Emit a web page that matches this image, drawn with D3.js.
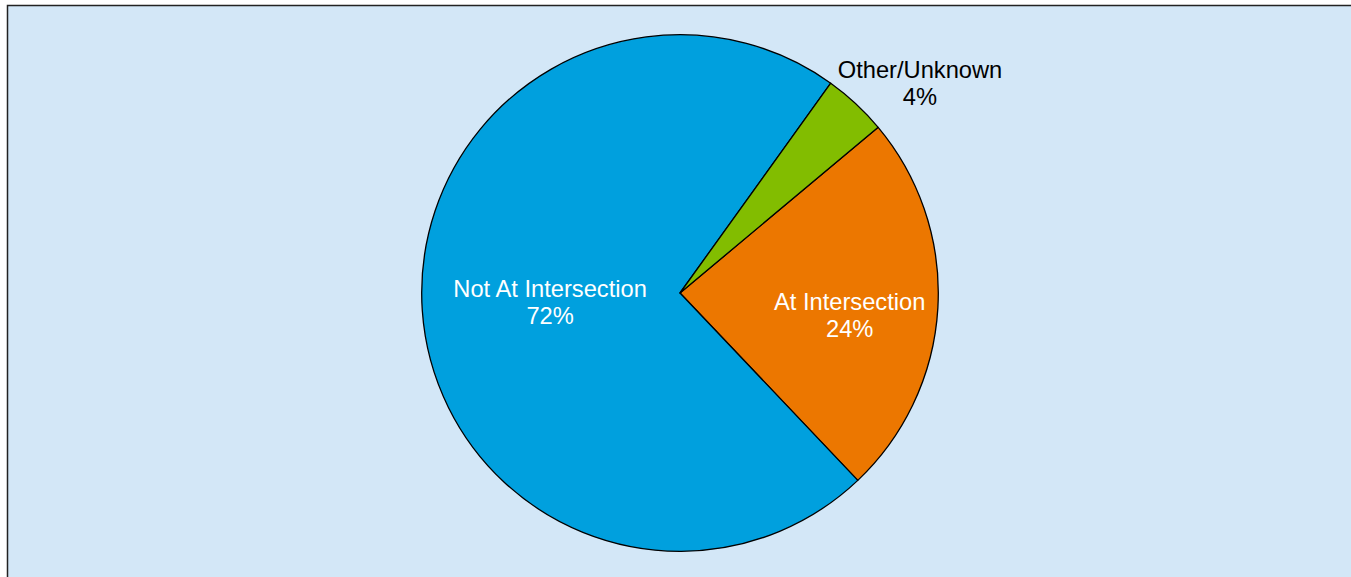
<!DOCTYPE html>
<html>
<head>
<meta charset="utf-8">
<script src="https://cdn.jsdelivr.net/npm/d3@7"></script>
<style>
  html, body { margin: 0; padding: 0; background: #ffffff; overflow: hidden; }
  svg { display: block; }
</style>
</head>
<body>
<script>
// ---- Data ----
const categories = ["At Intersection", "Not At Intersection", "Other/Unknown"];
const values = [24, 72, 4];
const percentLabels = ["24%", "72%", "4%"];
const colors = ["#EC7700", "#00A0DE", "#82BD00"];

// ---- Layout / style ----
const W = 1351, H = 577;
const cx = 680, cy = 293, R = 258.3;
const startDeg = 50.1;
const fontSize = 23.7;
const lineGap = 27.5;
// label placement: radius fraction along slice mid-angle, plus nudges
const labelPlacement = [
  { r: 0.658, dx: 0, dy: 12, color: "#ffffff" },
  { r: 0.504, dx: 0, dy: 0, color: "#ffffff" },
  { r: 1.2, dx: 29, dy: 17, color: "#000000" }
];

const svg = d3.select("body").append("svg")
  .attr("width", W).attr("height", H);

// chart area background with border
svg.append("rect")
  .attr("x", 7.5).attr("y", 5.5)
  .attr("width", W + 20).attr("height", H + 20)
  .attr("fill", "#D3E7F7")
  .attr("stroke", "#222")
  .attr("stroke-width", 1.5);

const data = categories.map((c, i) => ({ name: c, value: values[i], pct: percentLabels[i], color: colors[i], idx: i }));

const start = startDeg * Math.PI / 180;
const pie = d3.pie().sort(null).value(d => d.value)
  .startAngle(start).endAngle(start + 2 * Math.PI);
const arcs = pie(data);

const arc = d3.arc().innerRadius(0).outerRadius(R);

const g = svg.append("g").attr("transform", `translate(${cx},${cy})`);

g.selectAll("path.slice").data(arcs).enter().append("path")
  .attr("class", "slice")
  .attr("d", arc)
  .attr("fill", d => d.data.color)
  .attr("stroke", "#000")
  .attr("stroke-width", 1.3)
  .attr("stroke-linejoin", "round");

// labels
arcs.forEach(a => {
  const p = labelPlacement[a.data.idx];
  const lr = R * p.r;
  const la = d3.arc().innerRadius(lr).outerRadius(lr);
  const [x0, y0] = la.centroid(a);
  const x = x0 + p.dx, y = y0 + p.dy;
  const capH = fontSize * 0.716;
  const b1 = y - (capH + lineGap) / 2 + capH;
  const t = g.append("text")
    .attr("text-anchor", "middle")
    .attr("font-family", "Liberation Sans, Arial, sans-serif")
    .attr("font-size", fontSize)
    .attr("fill", p.color);
  t.append("tspan").attr("x", x).attr("y", b1).text(a.data.name);
  t.append("tspan").attr("x", x).attr("y", b1 + lineGap).text(a.data.pct);
});
</script>
</body>
</html>
